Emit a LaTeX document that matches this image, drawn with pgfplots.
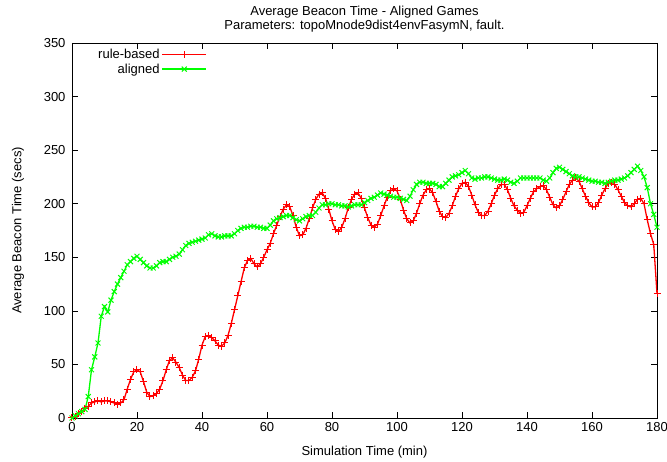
\documentclass[border=0pt]{standalone}
\usepackage{fontspec}
\setmainfont{Liberation Sans}
\usepackage{pgfplots}
\pgfplotsset{compat=1.18}

\begin{document}
\begin{tikzpicture}[font=\fontsize{13}{14}\selectfont]
\begin{axis}[
  scale only axis,
  width=585pt, height=375pt,
  xmin=0, xmax=180, ymin=0, ymax=350,
  xtick={0,20,...,180}, ytick={0,50,...,350},
  tick align=inside,
  major tick length=6pt,
  axis line style={line width=0.8pt},
  tick style={line width=0.6pt, black},
  /pgf/number format/assume math mode=true,
  yticklabel style={xshift=-3pt},
  xticklabel style={yshift=-1pt},
  every axis x label/.style={at={(axis description cs:0.5,-0.09)}, anchor=center},
  every axis y label/.style={at={(axis description cs:-0.0923,0.5)}, anchor=center, rotate=90},
  xlabel={Simulation Time (min)},
  ylabel={Average Beacon Time (secs)},
  title={Average Beacon Time - Aligned Games\\Parameters: topoMnode9dist4envFasymN, fault.},
  title style={align=center, at={(axis description cs:0.5,1)}, anchor=south, inner sep=0pt, yshift=4.5pt},
  legend plot pos=right,
  legend cell align=right,
  legend style={draw=none, fill=none, at={(axis description cs:0,1)}, anchor=north west, xshift=21pt, yshift=-2pt, row sep=-0.5pt},
  legend image code/.code={\draw[mark repeat=2,mark phase=2,#1] plot coordinates {(0pt,0pt)(22pt,0pt)(44pt,0pt)};},
]
\addplot[red, line width=1.3pt, mark=+, mark size=3.5pt, mark options={line width=1pt}] coordinates {
(0,0)(1,1)(2,4)(3,6)(4,9)(5,11)(6,14)(7,15)(8,16)(9,15)(10,16)(11,16)(12,15)(13,14)(14,13)(15,14)(16,17)(17,27)(18,36)(19,43)(20,45)
(21,43)(22,34)(23,24)(24,20)(25,21)(26,23)(27,27)(28,35)(29,45)(30,54)(31,56)(32,52)(33,47)(34,40)(35,35)(36,35)(37,38)(38,44)(39,55)(40,68)
(41,76)(42,77)(43,75)(44,72)(45,68)(46,67)(47,70)(48,77)(49,88)(50,101)(51,114)(52,127)(53,140)(54,147)(55,149)(56,144)(57,141)(58,144)(59,150)(60,157)
(61,163)(62,172)(63,180)(64,188)(65,195)(66,199)(67,197)(68,189)(69,178)(70,170)(71,171)(72,177)(73,186)(74,196)(75,204)(76,209)(77,210)(78,205)(79,195)(80,184)
(81,176)(82,174)(83,178)(84,186)(85,196)(86,204)(87,209)(88,210)(89,205)(90,196)(91,187)(92,180)(93,178)(94,181)(95,189)(96,198)(97,206)(98,212)(99,214)(100,212)
(101,204)(102,194)(103,186)(104,182)(105,184)(106,191)(107,200)(108,208)(109,213)(110,214)(111,210)(112,202)(113,193)(114,188)(115,187)(116,191)(117,198)(118,207)(119,214)(120,219)
(121,220)(122,216)(123,208)(124,199)(125,192)(126,189)(127,189)(128,193)(129,200)(130,208)(131,214)(132,218)(133,218)(134,213)(135,205)(136,198)(137,194)(138,191)(139,192)(140,198)
(141,205)(142,211)(143,214)(144,216)(145,217)(146,213)(147,206)(148,199)(149,196)(150,198)(151,204)(152,211)(153,218)(154,222)(155,224)(156,221)(157,214)(158,207)(159,201)(160,197)
(161,197)(162,201)(163,208)(164,214)(165,219)(166,220)(167,218)(168,213)(169,207)(170,201)(171,198)(172,197)(173,200)(174,204)(175,205)(176,200)(177,185)(178,172)(179,162)(180,116)
};
\addlegendentry{rule-based}
\addplot[green, line width=1.3pt, mark=x, mark size=3.5pt, mark options={line width=1pt}] coordinates {
(0,0)(1,2)(2,4)(3,6)(4,8)(5,20)(6,45)(7,57)(8,70)(9,95)(10,104)(11,99)(12,110)(13,118)(14,125)(15,131)(16,137)(17,143)(18,146)(19,149)(20,151)
(21,148)(22,145)(23,142)(24,140)(25,140)(26,142)(27,145)(28,146)(29,146)(30,148)(31,150)(32,151)(33,153)(34,157)(35,161)(36,163)(37,164)(38,165)(39,166)(40,167)
(41,168)(42,171)(43,172)(44,170)(45,169)(46,169)(47,170)(48,170)(49,170)(50,172)(51,175)(52,177)(53,178)(54,178)(55,179)(56,179)(57,178)(58,178)(59,177)(60,177)
(61,180)(62,184)(63,186)(64,187)(65,188)(66,189)(67,189)(68,187)(69,185)(70,184)(71,186)(72,188)(73,189)(74,189)(75,192)(76,196)(77,199)(78,199)(79,200)(80,200)
(81,199)(82,199)(83,198)(84,198)(85,197)(86,198)(87,199)(88,199)(89,199)(90,201)(91,203)(92,205)(93,206)(94,208)(95,210)(96,209)(97,208)(98,207)(99,206)(100,206)
(101,205)(102,204)(103,203)(104,207)(105,213)(106,218)(107,220)(108,220)(109,219)(110,219)(111,219)(112,218)(113,216)(114,216)(115,219)(116,222)(117,225)(118,226)(119,227)(120,229)
(121,231)(122,228)(123,224)(124,223)(125,224)(126,224)(127,225)(128,225)(129,224)(130,223)(131,222)(132,222)(133,223)(134,222)(135,220)(136,219)(137,221)(138,224)(139,224)(140,224)
(141,224)(142,224)(143,224)(144,224)(145,222)(146,221)(147,224)(148,229)(149,233)(150,234)(151,232)(152,230)(153,228)(154,226)(155,225)(156,225)(157,224)(158,223)(159,222)(160,221)
(161,221)(162,220)(163,220)(164,219)(165,220)(166,221)(167,222)(168,222)(169,223)(170,224)(171,226)(172,229)(173,232)(174,235)(175,231)(176,225)(177,215)(178,200)(179,190)(180,178)
};
\addlegendentry{aligned}
\end{axis}
\pgfresetboundingbox
\path ([shift={(-72pt,-44pt)}]current axis.south west) rectangle ([shift={(10pt,43pt)}]current axis.north east);
\end{tikzpicture}
\end{document}
